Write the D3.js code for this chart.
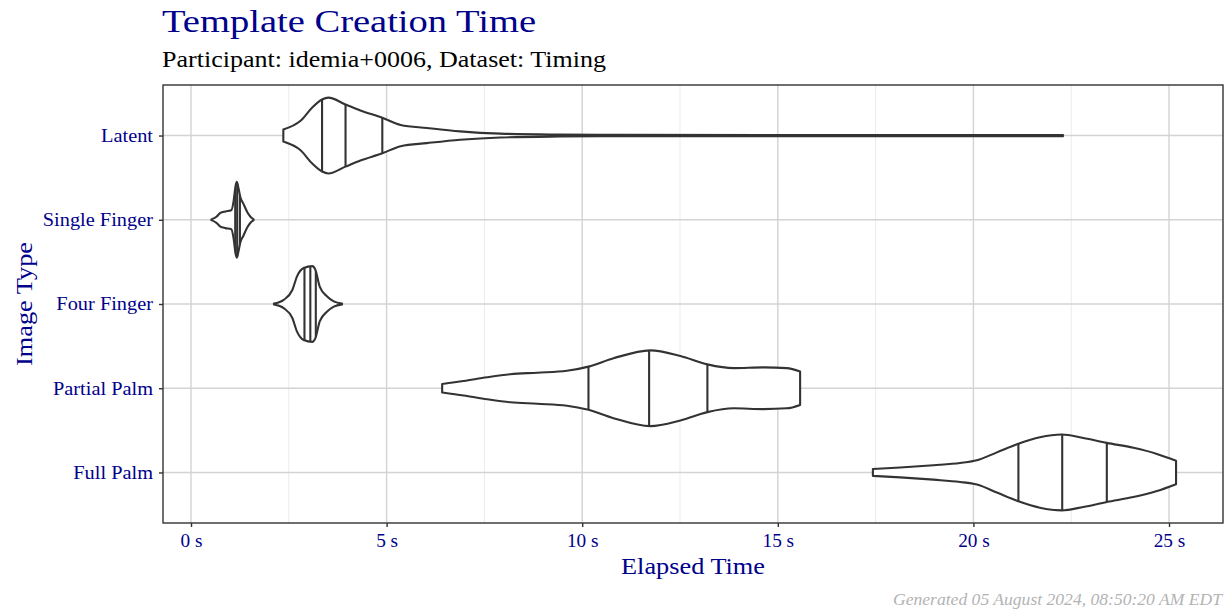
<!DOCTYPE html>
<html>
<head>
<meta charset=utf-8 />
<title>Template Creation Time</title>
<style type="text/css">
body { margin:0; background:#fff; }
text { font-family: "Palatino Linotype", "Book Antiqua", Palatino, "Liberation Serif", serif; }
</style>
<script src="https://d3js.org/d3.v7.min.js"></script>
</head>
<body>
<div id="chart"></div>
<script>

// categories, top to bottom
var categories = ["Latent", "Single Finger", "Four Finger", "Partial Palm", "Full Palm"];

// violin outlines: elapsed seconds and relative half width
var latentTime  = [2.36, 2.80, 3.10, 3.35, 3.51, 3.95, 4.33, 4.89, 5.36, 6.03, 6.88, 7.91, 9.44, 10.46, 15.0, 22.29];
var latentWidth = [0.16, 0.39, 0.74, 0.95, 1.00, 0.82, 0.66, 0.47, 0.28, 0.20, 0.11, 0.05, 0.025, 0.018, 0.016, 0.016];

var singleTime  = [0.52, 0.65, 0.75, 0.88, 1.03, 1.09, 1.14, 1.17, 1.21, 1.26, 1.34, 1.44, 1.52, 1.60];
var singleWidth = [0.01, 0.08, 0.18, 0.22, 0.25, 0.50, 0.90, 1.00, 0.85, 0.60, 0.42, 0.20, 0.08, 0.01];

var fourTime  = [2.12, 2.37, 2.59, 2.71, 2.88, 3.10, 3.18, 3.29, 3.48, 3.65, 3.86];
var fourWidth = [0.01, 0.11, 0.37, 0.73, 0.95, 1.00, 0.90, 0.46, 0.20, 0.07, 0.01];

var partialTime  = [6.42, 6.97, 7.57, 8.16, 8.85, 9.61, 10.16, 10.80, 11.74, 12.51, 13.20, 13.87, 14.63, 15.23, 15.57];
var partialWidth = [0.11, 0.19, 0.29, 0.37, 0.41, 0.46, 0.57, 0.79, 1.00, 0.85, 0.63, 0.53, 0.55, 0.53, 0.44];

var fullTime  = [17.43, 18.13, 18.98, 19.66, 20.09, 20.60, 21.15, 21.70, 22.26, 22.81, 23.41, 24.09, 24.69, 25.18];
var fullWidth = [0.09, 0.13, 0.19, 0.25, 0.32, 0.53, 0.76, 0.93, 1.00, 0.91, 0.78, 0.65, 0.49, 0.31];

// 25/50/75% quantiles
var latentQ  = [3.35, 3.95, 4.89];
var singleQ  = [1.13, 1.18, 1.25];
var fourQ    = [2.90, 3.05, 3.19];
var partialQ = [10.16, 11.71, 13.20];
var fullQ    = [21.15, 22.27, 23.41];

var majorTicks = [0, 5, 10, 15, 20, 25];
var minorTicks = [2.5, 7.5, 12.5, 17.5, 22.5];

var violins = [
  {cat: "Latent", t: latentTime, w: latentWidth, q: latentQ},
  {cat: "Single Finger", t: singleTime, w: singleWidth, q: singleQ},
  {cat: "Four Finger", t: fourTime, w: fourWidth, q: fourQ},
  {cat: "Partial Palm", t: partialTime, w: partialWidth, q: partialQ},
  {cat: "Full Palm", t: fullTime, w: fullWidth, q: fullQ}
];

var W = 1226, H = 613;
var margin = {top: 85, right: 3, bottom: 90, left: 163};
var pw = W - margin.left - margin.right,
    ph = H - margin.top - margin.bottom;

var svg = d3.select("#chart").append("svg")
    .attr("width", W).attr("height", H);

var g = svg.append("g")
    .attr("transform", "translate(" + margin.left + "," + margin.top + ")");

// x scale: 0 s at 191px, 25 s at 1168.5px
var x = d3.scaleLinear()
    .domain([-0.716, 26.38])
    .range([0, pw]);

var y = d3.scalePoint()
    .domain(categories)
    .range([0, ph])
    .padding(0.6);

var step = y.step();
var halfMax = step * 0.45;

// widen Liberation glyph runs a bit towards the wider Palatino look
function widen(sel, k) {
  sel.each(function() {
    var len = this.getComputedTextLength();
    d3.select(this).attr("textLength", len * k).attr("lengthAdjust", "spacingAndGlyphs");
  });
}

// grid
g.selectAll(".minor").data(minorTicks).enter().append("line")
    .attr("x1", d => x(d)).attr("x2", d => x(d))
    .attr("y1", 0).attr("y2", ph)
    .attr("stroke", "#ebebeb").attr("stroke-width", 1);

g.selectAll(".major").data(majorTicks).enter().append("line")
    .attr("x1", d => x(d)).attr("x2", d => x(d))
    .attr("y1", 0).attr("y2", ph)
    .attr("stroke", "#d3d3d3").attr("stroke-width", 1.4);

g.selectAll(".hgrid").data(categories).enter().append("line")
    .attr("x1", 0).attr("x2", pw)
    .attr("y1", d => y(d)).attr("y2", d => y(d))
    .attr("stroke", "#d3d3d3").attr("stroke-width", 1.4);

// violins
violins.forEach(function(v) {
  var yc = y(v.cat);
  var pts = v.t.map((t, i) => ({t: t, w: v.w[i]}));
  var area = d3.area()
      .x(d => x(d.t))
      .y0(d => yc + d.w * halfMax)
      .y1(d => yc - d.w * halfMax)
      .curve(d3.curveMonotoneX);
  g.append("path")
      .datum(pts)
      .attr("d", area)
      .attr("fill", "#fff")
      .attr("stroke", "#333")
      .attr("stroke-width", 2.1)
      .attr("stroke-linejoin", "round");

  var hw = d3.scaleLinear().domain(v.t).range(v.w);
  g.selectAll(null).data(v.q).enter().append("line")
      .attr("x1", d => x(d)).attr("x2", d => x(d))
      .attr("y1", d => yc - hw(d) * halfMax)
      .attr("y2", d => yc + hw(d) * halfMax)
      .attr("stroke", "#333").attr("stroke-width", 2.1);
});

// panel border
g.append("rect")
    .attr("width", pw).attr("height", ph)
    .attr("fill", "none").attr("stroke", "#333").attr("stroke-width", 1.4);

// axes
var xAxis = g.append("g")
    .attr("transform", "translate(0," + ph + ")")
    .call(d3.axisBottom(x).tickValues(majorTicks).tickSize(4).tickPadding(7).tickFormat(d => d + " s"));
xAxis.select(".domain").remove();
xAxis.selectAll("line").attr("stroke", "#333").attr("stroke-width", 1.4);
xAxis.selectAll("text").attr("fill", "#00008b").style("font-size", "18px")
    .style("font-family", "\"Liberation Serif\", serif")
    .call(widen, 1.07);

var yAxis = g.append("g")
    .call(d3.axisLeft(y).tickSize(4).tickPadding(6));
yAxis.select(".domain").remove();
yAxis.selectAll("line").attr("stroke", "#333").attr("stroke-width", 1.4);
yAxis.selectAll("text").attr("fill", "#00008b").style("font-size", "18.5px")
    .style("font-family", "\"Liberation Serif\", serif")
    .call(widen, 1.1);

// titles
svg.append("text")
    .attr("x", 162).attr("y", 32)
    .attr("fill", "#00008b")
    .style("font-size", "32px")
    .attr("textLength", 374).attr("lengthAdjust", "spacingAndGlyphs")
    .text("Template Creation Time");

svg.append("text")
    .attr("x", 162).attr("y", 67)
    .attr("fill", "#000")
    .style("font-size", "23px")
    .attr("textLength", 444).attr("lengthAdjust", "spacingAndGlyphs")
    .text("Participant: idemia+0006, Dataset: Timing");

svg.append("text")
    .attr("x", margin.left + pw / 2).attr("y", 574)
    .attr("text-anchor", "middle")
    .attr("fill", "#00008b")
    .style("font-size", "23px")
    .attr("textLength", 144).attr("lengthAdjust", "spacingAndGlyphs")
    .text("Elapsed Time");

svg.append("text")
    .attr("transform", "translate(32," + (margin.top + ph / 2) + ") rotate(-90)")
    .attr("text-anchor", "middle")
    .attr("fill", "#00008b")
    .style("font-size", "23px")
    .attr("textLength", 124).attr("lengthAdjust", "spacingAndGlyphs")
    .text("Image Type");

svg.append("text")
    .attr("x", 1222).attr("y", 605)
    .attr("text-anchor", "end")
    .attr("fill", "#b3b3b3")
    .style("font-size", "16px")
    .style("font-style", "italic")
    .attr("textLength", 329).attr("lengthAdjust", "spacingAndGlyphs")
    .text("Generated 05 August 2024, 08:50:20 AM EDT");

</script>
</body>
</html>
